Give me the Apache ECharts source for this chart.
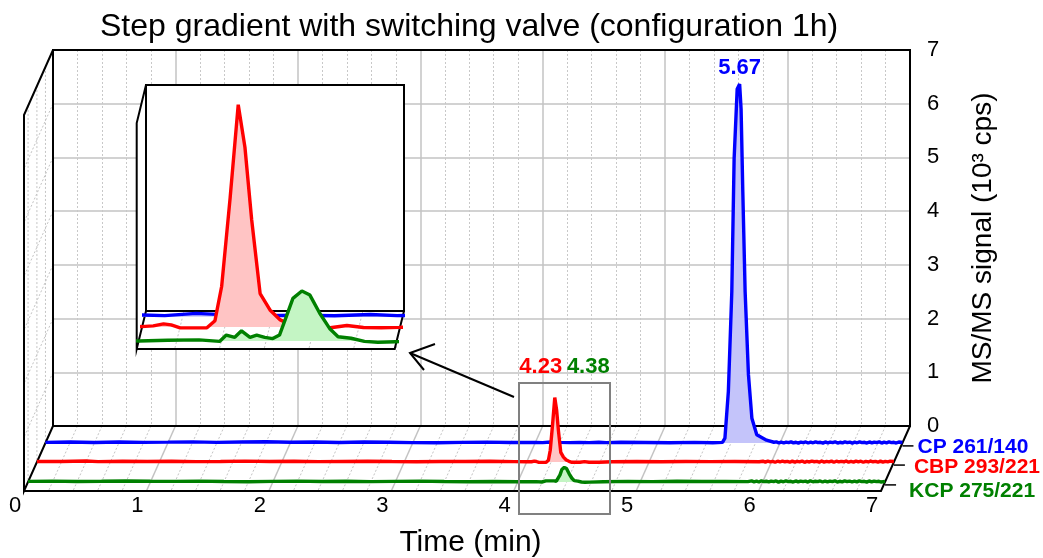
<!DOCTYPE html>
<html>
<head>
<meta charset="utf-8">
<script src="https://cdn.jsdelivr.net/npm/echarts@6/dist/echarts.min.js"></script>
<style>
  html, body { margin: 0; padding: 0; background: #fff; }
  #chart { width: 1043px; height: 558px; }
</style>
</head>
<body>
<div id="chart"></div>
<script>
// ---- data -------------------------------------------------------------
const timeTicks = [0, 1, 2, 3, 4, 5, 6, 7];          // min
const signalTicks = [0, 1, 2, 3, 4, 5, 6, 7];        // 10^3 cps
const traceNames = ['CP 261/140', 'CBP 293/221', 'KCP 275/221'];
const traceColors = ['#0000ff', '#ff0000', '#008000'];
const fillColors = ['#c4c4fa', '#ffc4c4', '#c4f5c4'];
const zoomRange = [4.015, 4.592];                    // time window of the enlarged view

// [time (min), signal (10^3 cps)]
const cpTrace = [
  [0.00, 0.010], [0.20, 0.016], [0.40, 0.008], [0.60, 0.018], [0.80, 0.010],
  [1.00, 0.014], [1.20, 0.020], [1.40, 0.010], [1.60, 0.016], [1.80, 0.022],
  [2.00, 0.012], [2.20, 0.016], [2.40, 0.008], [2.60, 0.018], [2.80, 0.012],
  [3.00, 0.006], [3.20, 0.004], [3.40, 0.010], [3.60, 0.014], [3.80, 0.008],
  [4.00, 0.010], [4.06, 0.006], [4.13, 0.018], [4.20, 0.010], [4.28, 0.006],
  [4.36, 0.008], [4.44, 0.005], [4.52, 0.012], [4.58, 0.006], [4.70, 0.012],
  [4.90, 0.008], [5.10, 0.004], [5.30, 0.010], [5.45, 0.004], [5.53, 0.010],
  [5.550, 0.09], [5.578, 0.96], [5.606, 2.81], [5.625, 5.29], [5.650, 6.59],
  [5.670, 6.68], [5.682, 6.21], [5.696, 4.67], [5.715, 2.81], [5.742, 1.27],
  [5.770, 0.46], [5.810, 0.15], [5.890, 0.05], [5.950, 0.012],
  [5.97, 0.018], [5.99, 0.002], [6.01, 0.016], [6.03, -0.002], [6.05, 0.014],
  [6.07, 0.004], [6.09, 0.020], [6.11, 0.000], [6.13, 0.012], [6.15, -0.004],
  [6.17, 0.016], [6.19, 0.006], [6.21, 0.018], [6.23, -0.002], [6.25, 0.014],
  [6.27, 0.002], [6.29, 0.020], [6.31, 0.004], [6.33, 0.012], [6.35, -0.004],
  [6.37, 0.018], [6.39, 0.002], [6.41, 0.016], [6.43, 0.006], [6.45, 0.020],
  [6.47, -0.002], [6.49, 0.012], [6.51, 0.000], [6.53, 0.018], [6.55, 0.004],
  [6.57, 0.016], [6.59, -0.004], [6.61, 0.014], [6.63, 0.002], [6.65, 0.020],
  [6.67, 0.006], [6.69, 0.012], [6.71, -0.002], [6.73, 0.018], [6.75, 0.000],
  [6.77, 0.016], [6.79, 0.004], [6.81, 0.020], [6.83, -0.004], [6.85, 0.014],
  [6.87, 0.002], [6.89, 0.018], [6.91, 0.006], [6.93, 0.012], [6.95, -0.002],
  [6.97, 0.016], [7.00, 0.008]
];

const cbpTrace = [
  [0.00, 0.012], [0.20, 0.010], [0.40, 0.020], [0.50, 0.008], [0.70, 0.016],
  [0.90, 0.010], [1.10, 0.014], [1.30, 0.008], [1.50, 0.012], [1.70, 0.018],
  [1.90, 0.010], [2.10, 0.014], [2.30, 0.008], [2.50, 0.012], [2.70, 0.016],
  [2.90, 0.010], [3.10, 0.006], [3.30, 0.012], [3.50, 0.010], [3.70, 0.014],
  [3.90, 0.008], [4.000, 0.006], [4.013, 0.002], [4.040, 0.006], [4.063, 0.017],
  [4.080, 0.011], [4.100, -0.005], [4.160, -0.004], [4.178, 0.034], [4.193, 0.22],
  [4.212, 0.70], [4.230, 1.20], [4.245, 0.97], [4.260, 0.58], [4.279, 0.18],
  [4.301, 0.092], [4.324, 0.038], [4.346, 0.014], [4.370, -0.004], [4.400, -0.003],
  [4.436, -0.004], [4.473, 0.008], [4.510, -0.003], [4.550, -0.004], [4.590, -0.002],
  [4.70, 0.006], [4.90, 0.010], [5.10, 0.006], [5.30, 0.012], [5.50, 0.008],
  [5.70, 0.010], [5.90, 0.006],
  [5.93, 0.016], [5.95, 0.000], [5.97, 0.018], [5.99, 0.004], [6.01, 0.014],
  [6.03, -0.004], [6.05, 0.016], [6.07, 0.002], [6.09, 0.020], [6.11, 0.006],
  [6.13, 0.012], [6.15, -0.002], [6.17, 0.018], [6.19, 0.000], [6.21, 0.014],
  [6.23, 0.004], [6.25, 0.020], [6.27, -0.004], [6.29, 0.012], [6.31, 0.002],
  [6.33, 0.018], [6.35, 0.006], [6.37, 0.014], [6.39, -0.002], [6.41, 0.020],
  [6.43, 0.000], [6.45, 0.012], [6.47, 0.004], [6.49, 0.018], [6.51, -0.004],
  [6.53, 0.016], [6.55, 0.002], [6.57, 0.014], [6.59, 0.006], [6.61, 0.020],
  [6.63, -0.002], [6.65, 0.012], [6.67, 0.000], [6.69, 0.018], [6.71, 0.004],
  [6.73, 0.016], [6.75, -0.004], [6.77, 0.014], [6.79, 0.002], [6.81, 0.020],
  [6.83, 0.006], [6.85, 0.012], [6.87, -0.002], [6.89, 0.018], [6.91, 0.000],
  [6.93, 0.014], [6.95, 0.004], [6.97, 0.016], [7.00, 0.010]
];

const kcpTrace = [
  [0.00, 0.010], [0.20, 0.014], [0.40, 0.008], [0.60, 0.012], [0.80, 0.018],
  [1.00, 0.012], [1.20, 0.010], [1.40, 0.014], [1.60, 0.008], [1.80, 0.004],
  [2.00, 0.010], [2.20, 0.014], [2.40, 0.008], [2.60, 0.012], [2.80, 0.006],
  [3.00, 0.010], [3.20, 0.014], [3.40, 0.008], [3.60, 0.004], [3.80, 0.008],
  [4.000, 0.002], [4.015, 0.000], [4.080, 0.004], [4.150, 0.006], [4.196, -0.002],
  [4.211, 0.032], [4.230, 0.020], [4.245, 0.055], [4.264, 0.020], [4.279, 0.032],
  [4.297, 0.020], [4.315, 0.013], [4.330, 0.032], [4.345, 0.13], [4.360, 0.23],
  [4.380, 0.27], [4.398, 0.248], [4.420, 0.15], [4.442, 0.068], [4.461, 0.023],
  [4.490, 0.015], [4.520, -0.002], [4.550, -0.007], [4.590, -0.004], [4.70, 0.004],
  [4.90, 0.010], [5.10, 0.006], [5.30, 0.012], [5.50, 0.008], [5.70, 0.010],
  [5.88, 0.006],
  [5.91, 0.018], [5.93, 0.002], [5.95, 0.014], [5.97, -0.002], [5.99, 0.020],
  [6.01, 0.004], [6.03, 0.012], [6.05, 0.000], [6.07, 0.016], [6.09, 0.006],
  [6.11, 0.018], [6.13, -0.004], [6.15, 0.014], [6.17, 0.002], [6.19, 0.020],
  [6.21, 0.004], [6.23, 0.012], [6.25, -0.002], [6.27, 0.018], [6.29, 0.000],
  [6.31, 0.016], [6.33, 0.006], [6.35, 0.014], [6.37, -0.004], [6.39, 0.020],
  [6.41, 0.002], [6.43, 0.012], [6.45, 0.004], [6.47, 0.018], [6.49, -0.002],
  [6.51, 0.016], [6.53, 0.000], [6.55, 0.014], [6.57, 0.006], [6.59, 0.020],
  [6.61, -0.004], [6.63, 0.012], [6.65, 0.002], [6.67, 0.018], [6.69, 0.004],
  [6.71, 0.016], [6.73, -0.002], [6.75, 0.014], [6.77, 0.000], [6.79, 0.020],
  [6.81, 0.006], [6.83, 0.012], [6.85, -0.004], [6.87, 0.018], [6.89, 0.002],
  [6.91, 0.016], [6.93, 0.004], [6.95, 0.012], [6.97, -0.002], [7.00, 0.010]
];

const traces = [cpTrace, cbpTrace, kcpTrace];

// ---- layout -----------------------------------------------------------
const FONT = '"Liberation Sans", Arial, sans-serif';
const BACK = { left: 53, top: 50, width: 857, height: 376 };   // back wall of the main box
const DEPTH = { dx: -29, dy: 65 };                             // floor: back edge -> front edge
const LANES = [0.26, 0.555, 0.86];                             // depth of each trace (0 back, 1 front)
const SIG_MAX = signalTicks[signalTicks.length - 1];
const SIG_MIN = -0.1;
const UNIT = BACK.height / SIG_MAX;

const INSET = { left: 146, top: 85, width: 258, height: 226 };
const IN_DEPTH = { dx: -9.3, dy: 38 };
const IN_LANES = [0.15, 0.42, 0.79];
const IN_MAX = 1.22, IN_MIN = -0.05;
const IN_UNIT = INSET.height / IN_MAX;

const LINE_W = 3.4;
const SOLID = { stroke: '#c3c3c3', lineWidth: 1.5 };
const DOTTED = { stroke: '#c4c4c4', lineWidth: 1, lineDash: [2, 2] };
const EDGE = { stroke: '#000', lineWidth: 2, fill: null };

// ---- grids / axes -----------------------------------------------------
const grids = [], xAxes = [], yAxes = [];
function hiddenX(grid, min, max) {
  return { type: 'value', gridIndex: grid, min, max, show: false };
}
function hiddenY(grid, min, max) {
  return { type: 'value', gridIndex: grid, min, max, show: false };
}

// 0: back wall
grids.push({ left: BACK.left, top: BACK.top, width: BACK.width, height: BACK.height });
xAxes.push({
  type: 'value', gridIndex: 0, min: timeTicks[0], max: timeTicks[timeTicks.length - 1], interval: 1,
  axisLine: { show: false }, axisTick: { show: false }, axisLabel: { show: false },
  splitLine: { show: true, lineStyle: { color: '#c3c3c3', width: 1.5 } },
  minorTick: { show: false, splitNumber: 5 },
  minorSplitLine: { show: true, lineStyle: { color: '#c8c8c8', width: 1, type: [2, 2] } }
});
yAxes.push({
  type: 'value', gridIndex: 0, position: 'right', min: signalTicks[0], max: SIG_MAX, interval: 1,
  axisLine: { show: false }, axisTick: { show: false },
  axisLabel: { margin: 17, fontSize: 22, color: '#000', fontFamily: FONT },
  splitLine: { show: true, lineStyle: { color: '#c3c3c3', width: 1.5 } },
  name: 'MS/MS signal (10³ cps)', nameLocation: 'middle', nameRotate: 90, nameGap: 59,
  nameTextStyle: { fontSize: 28, color: '#000', fontFamily: FONT }
});

// 1..3: one lane per trace
LANES.forEach((f, i) => {
  grids.push({
    left: BACK.left + DEPTH.dx * f, top: BACK.top + DEPTH.dy * f,
    width: BACK.width, height: BACK.height - SIG_MIN * UNIT
  });
  xAxes.push(hiddenX(1 + i, 0, 7));
  yAxes.push(hiddenY(1 + i, SIG_MIN, SIG_MAX));
});

// 4: time labels along the front edge of the floor
grids.push({ left: 15, top: BACK.top + BACK.height + DEPTH.dy - 1, width: BACK.width, height: 1 });
xAxes.push({
  type: 'value', gridIndex: 4, min: 0, max: 7, interval: 1,
  axisLine: { show: false }, axisTick: { show: false }, splitLine: { show: false },
  axisLabel: { margin: 5, fontSize: 22, color: '#000', fontFamily: FONT },
  name: 'Time (min)', nameLocation: 'middle', nameGap: 37,
  nameTextStyle: { fontSize: 30, color: '#000', fontFamily: FONT, padding: [0, 0, 0, 54] }
});
yAxes.push(hiddenY(4, 0, 1));

// 5: back wall of the enlarged view
grids.push({ left: INSET.left, top: INSET.top, width: INSET.width, height: INSET.height });
xAxes.push(hiddenX(5, zoomRange[0], zoomRange[1]));
yAxes.push(hiddenY(5, 0, IN_MAX));

// 6..8: lanes of the enlarged view
IN_LANES.forEach((f, i) => {
  grids.push({
    left: INSET.left + IN_DEPTH.dx * f, top: INSET.top + IN_DEPTH.dy * f,
    width: INSET.width, height: INSET.height - IN_MIN * IN_UNIT
  });
  xAxes.push(hiddenX(6 + i, zoomRange[0], zoomRange[1]));
  yAxes.push(hiddenY(6 + i, IN_MIN, IN_MAX));
});

// ---- pseudo-3D box (walls, floor, edges) --------------------------------
function boxSeries(opt) {
  return {
    type: 'custom', coordinateSystem: 'cartesian2d', silent: true,
    xAxisIndex: opt.axis, yAxisIndex: opt.axis, z: opt.z,
    data: [[opt.x0, 0]],
    renderItem: function (params, api) {
      const d = opt.depth;
      const sh = (p, f) => [p[0] + d.dx * f, p[1] + d.dy * f];
      const b0 = api.coord([opt.x0, 0]), b1 = api.coord([opt.x1, 0]);
      const t0 = api.coord([opt.x0, opt.ymax]), t1 = api.coord([opt.x1, opt.ymax]);
      const kids = [];
      const seg = (a, b, style) => kids.push({
        type: 'line', shape: { x1: a[0], y1: a[1], x2: b[0], y2: b[1] }, style: Object.assign({}, style)
      });
      if (opt.fill) {
        [[b0, b1, t1, t0], [t0, sh(t0, 1), sh(b0, 1), b0], [b0, b1, sh(b1, 1), sh(b0, 1)]]
          .forEach(pts => kids.push({ type: 'polygon', shape: { points: pts }, style: { fill: '#fff' } }));
      }
      opt.floorTicks.forEach(t => {
        const p = api.coord([t.v, 0]);
        seg(p, sh(p, 1), t.major ? SOLID : DOTTED);
      });
      (opt.wallLevels || []).forEach(v => {
        const p = api.coord([opt.x0, v]);
        seg(p, sh(p, 1), DOTTED);
      });
      (opt.wallLanes || []).forEach(f => seg(sh(t0, f), sh(b0, f), DOTTED));
      // outline
      kids.push({ type: 'polyline', shape: { points: [b0, b1, t1, t0, b0] }, style: Object.assign({}, EDGE) });
      kids.push({ type: 'polyline', shape: { points: [t0, sh(t0, 1), sh(b0, 1), b0] }, style: Object.assign({}, EDGE) });
      kids.push({ type: 'polyline', shape: { points: [sh(b0, 1), sh(b1, 1), b1] }, style: Object.assign({}, EDGE) });
      // leader ticks towards the trace names
      (opt.labelLanes || []).forEach(f => {
        const p = sh(b1, f);
        seg([p[0], p[1] + 3], [p[0] + 11, p[1] + 3], { stroke: '#000', lineWidth: 1.5 });
      });
      return { type: 'group', children: kids };
    }
  };
}

const mainFloorTicks = [];
for (let k = 1; k < 35; k++) mainFloorTicks.push({ v: k / 5, major: k % 5 === 0 });
const insetFloorTicks = [4.1, 4.2, 4.3, 4.4, 4.5].map(v => ({ v, major: false }));

const series = [];
series.push(boxSeries({
  axis: 0, z: 1, x0: 0, x1: 7, ymax: SIG_MAX, depth: DEPTH, fill: false,
  floorTicks: mainFloorTicks, wallLevels: [1, 2, 3, 4, 5, 6], wallLanes: LANES, labelLanes: LANES
}));

// ---- traces (main box) ------------------------------------------------
const peakLabelOffsets = [[0, 0], [-14, -15], [24, -84]];
const endLabelOffsets = [[7, 5], [12, 6], [16, 10]];
traces.forEach((tr, i) => {
  let peak = tr[0];
  tr.forEach(p => { if (p[1] > peak[1]) peak = p; });
  series.push({
    type: 'line', name: traceNames[i], data: tr,
    xAxisIndex: 1 + i, yAxisIndex: 1 + i, z: 3 + i,
    symbol: 'none', showSymbol: false, silent: true,
    lineStyle: { color: traceColors[i], width: LINE_W },
    itemStyle: { color: traceColors[i] },
    areaStyle: { color: fillColors[i], opacity: 1 },
    endLabel: {
      show: true, formatter: traceNames[i], color: traceColors[i], fontWeight: 'bold',
      fontSize: 21, fontFamily: FONT, offset: endLabelOffsets[i]
    },
    markPoint: {
      symbol: 'circle', symbolSize: 0, z: 9, silent: true,
      data: [{ coord: peak, value: peak[0].toFixed(2) }],
      label: {
        show: true, position: 'top', formatter: p => p.value, offset: peakLabelOffsets[i],
        color: traceColors[i], fontWeight: 'bold', fontSize: 22, fontFamily: FONT
      }
    }
  });
});

// ---- enlarged view ----------------------------------------------------
series.push(boxSeries({
  axis: 5, z: 10, x0: zoomRange[0], x1: zoomRange[1], ymax: IN_MAX, depth: IN_DEPTH, fill: true,
  floorTicks: insetFloorTicks
}));
traces.forEach((tr, i) => {
  series.push({
    type: 'line', name: traceNames[i] + ' (detail)', data: tr,
    xAxisIndex: 6 + i, yAxisIndex: 6 + i, z: 11 + i, clip: true,
    symbol: 'none', showSymbol: false, silent: true,
    lineStyle: { color: traceColors[i], width: LINE_W },
    areaStyle: { color: fillColors[i], opacity: 1 }
  });
});

const option = {
  animation: false,
  backgroundColor: '#fff',
  title: {
    text: 'Step gradient with switching valve (configuration 1h)',
    left: 95, top: 6,
    textStyle: { fontSize: 32, fontWeight: 'normal', color: '#000', fontFamily: FONT }
  },
  grid: grids, xAxis: xAxes, yAxis: yAxes, series,
  graphic: [
    { type: 'rect', z: 8, silent: true, shape: { x: 519, y: 383, width: 91, height: 131 },
      style: { fill: null, stroke: '#808080', lineWidth: 2 } },
    { type: 'line', z: 20, silent: true, shape: { x1: 514, y1: 397, x2: 410, y2: 353 },
      style: { stroke: '#000', lineWidth: 2 } },
    { type: 'polyline', z: 20, silent: true, shape: { points: [[435, 344], [410, 353], [424, 370]] },
      style: { stroke: '#000', lineWidth: 2, fill: null } }
  ]
};

const chart = echarts.init(document.getElementById('chart'), null, { renderer: 'canvas' });
chart.setOption(option);
</script>
</body>
</html>
